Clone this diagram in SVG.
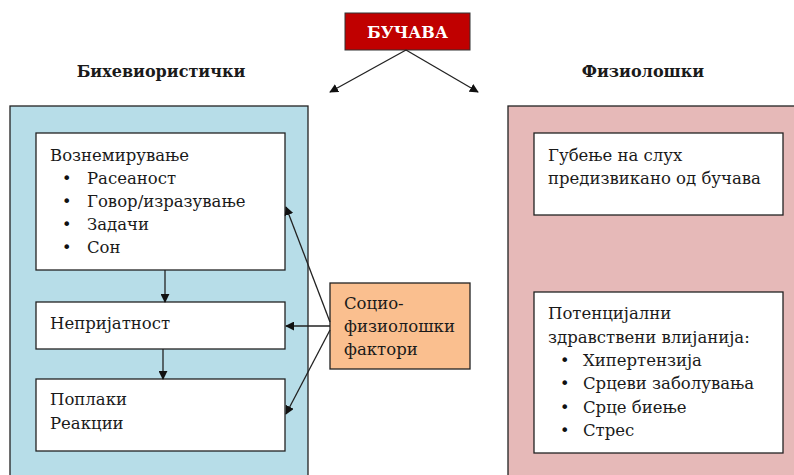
<svg xmlns="http://www.w3.org/2000/svg" width="794" height="475" viewBox="0 0 794 475">
<defs>
<style>
.t{font-family:"DejaVu Serif","Liberation Serif",serif;font-size:16.5px;fill:#1a1a1a}
.b{font-weight:bold;font-size:16px}
.bu{font-family:"DejaVu Sans",sans-serif;font-size:16px;fill:#111}
.box{fill:#fff;stroke:#222;stroke-width:1.3}
.ln{stroke:#222;stroke-width:1.3;fill:none;marker-end:url(#ah)}
</style>
<marker id="ah" viewBox="0 0 10 10" refX="9" refY="5" markerWidth="9" markerHeight="9" markerUnits="userSpaceOnUse" orient="auto">
<path d="M0,0 L10,5 L0,10 z" fill="#111"/>
</marker>
</defs>
<rect width="794" height="475" fill="#fff"/>
<g id="panel-left"><rect x="10" y="106" width="298" height="380" fill="#B7DDE8" stroke="#222" stroke-width="1.3"/></g>
<g id="panel-right"><rect x="508" y="106" width="300" height="380" fill="#E6B9B8" stroke="#222" stroke-width="1.3"/></g>
<g id="noise"><rect x="345" y="13" width="125" height="37" fill="#C00000" stroke="#333" stroke-width="1"/><text class="t b" x="407.5" y="38" text-anchor="middle" style="fill:#fff">БУЧАВА</text></g>
<g id="title-left"><text class="t b" x="161" y="77" text-anchor="middle">Бихевиористички</text></g>
<g id="title-right"><text class="t b" x="643" y="77" text-anchor="middle">Физиолошки</text></g>
<g id="annoyance"><rect class="box" x="36" y="133" width="249" height="137"/>
<text class="t" x="50" y="161">Вознемирување</text>
<text class="bu" x="62" y="184">•</text><text class="t" x="87" y="184">Расеаност</text>
<text class="bu" x="62" y="207">•</text><text class="t" x="87" y="207">Говор/изразување</text>
<text class="bu" x="62" y="230">•</text><text class="t" x="87" y="230">Задачи</text>
<text class="bu" x="62" y="253">•</text><text class="t" x="87" y="253">Сон</text></g>
<g id="discomfort"><rect class="box" x="36" y="302" width="249" height="47"/><text class="t" x="50" y="329">Непријатност</text></g>
<g id="complaints"><rect class="box" x="36" y="379" width="249" height="72"/><text class="t" x="50" y="405">Поплаки</text><text class="t" x="50" y="429">Реакции</text></g>
<g id="socio"><rect x="330" y="283" width="140" height="86" fill="#FABF8F" stroke="#222" stroke-width="1.3"/>
<text class="t" x="344" y="309">Социо-</text><text class="t" x="344" y="332">физиолошки</text><text class="t" x="344" y="355">фактори</text></g>
<g id="hearing"><rect class="box" x="534" y="133" width="249" height="82"/><text class="t" x="548" y="161">Губење на слух</text><text class="t" x="548" y="184">предизвикано од бучава</text></g>
<g id="health"><rect class="box" x="534" y="292" width="249" height="161"/>
<text class="t" x="548" y="319">Потенцијални</text>
<text class="t" x="548" y="343">здравствени влијанија:</text>
<text class="bu" x="560" y="366">•</text><text class="t" x="583" y="366">Хипертензија</text>
<text class="bu" x="560" y="389">•</text><text class="t" x="583" y="389">Срцеви заболувања</text>
<text class="bu" x="560" y="413">•</text><text class="t" x="583" y="413">Срце биење</text>
<text class="bu" x="560" y="436">•</text><text class="t" x="583" y="436">Стрес</text></g>
<g id="connectors">
<line class="ln" x1="406" y1="50" x2="330" y2="92"/>
<line class="ln" x1="406" y1="50" x2="478" y2="92"/>
<line class="ln" x1="165" y1="270" x2="165" y2="302"/>
<line class="ln" x1="163" y1="349" x2="163" y2="379"/>
<line class="ln" x1="330" y1="326" x2="286" y2="326"/>
<line class="ln" x1="330" y1="322" x2="286" y2="207"/>
<line class="ln" x1="330" y1="330" x2="286" y2="414"/>
</g>
</svg>
